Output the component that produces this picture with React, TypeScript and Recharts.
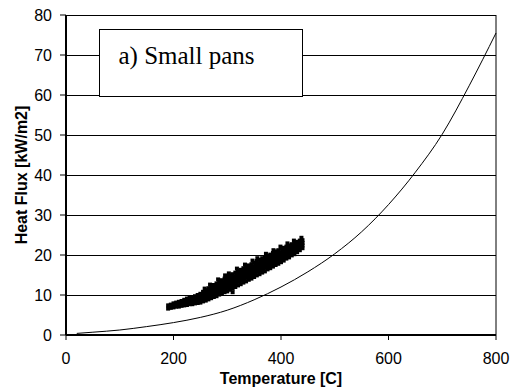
import { ComposedChart, Line, Scatter, XAxis, YAxis, CartesianGrid, ReferenceLine } from 'recharts';

// model curve
const CURVE_T = [20, 50, 100, 150, 200, 250, 300, 350, 400, 450, 500, 550, 600, 650, 700, 750, 800];
const CURVE_Q = [0.4, 0.7, 1.25, 2.1, 3.1, 4.4, 6.2, 8.8, 12, 15.8, 20.3, 25.8, 32.6, 40.7, 50.2, 62.3, 75.5];

// measured points, grouped by temperature
const MEAS_T = [
  190, 195, 200, 205, 210, 215, 220, 225, 230, 235, 240, 245, 250, 255, 260, 265, 270, 275, 280, 285,
  290, 295, 300, 305, 310, 315, 320, 325, 330, 335, 340, 345, 350, 355, 360, 365, 370, 375, 380, 385,
  390, 395, 400, 405, 410, 415, 420, 425, 430, 435, 440,
];
const MEAS_Q = [
  [6.6, 7.4], [6.8, 7.6], [6.9, 7.9], [7.1, 7.6, 8.1], [7.1, 7.7, 8.3], [7.3, 7.9, 8.5], [7.4, 8.1, 8.8],
  [7.5, 8.0, 8.6, 9.1], [7.7, 8.2, 8.8, 9.3], [7.7, 8.3, 8.9, 9.5], [7.9, 8.5, 9.1, 9.7], [8.0, 8.7, 9.3, 10.0],
  [8.1, 8.8, 9.6, 10.3], [8.4, 9.2, 10.0, 10.8], [8.6, 9.5, 10.3, 11.2], [8.9, 9.8, 10.8, 11.7],
  [9.2, 10.1, 11.1, 12.0], [9.5, 10.5, 11.5, 12.5], [9.7, 10.8, 11.8, 12.9], [10.1, 11.1, 12.3, 13.3],
  [10.3, 11.4, 12.6, 13.7], [10.7, 11.8, 13.0, 14.1], [10.9, 12.1, 13.3, 14.5], [11.3, 12.5, 13.7, 14.9],
  [10.7, 11.6, 12.8, 14.0, 15.2], [12.0, 13.2, 14.4, 15.6], [12.4, 13.6, 14.8, 16.0], [12.7, 13.9, 15.1, 16.3],
  [13.1, 14.3, 15.5, 16.7], [13.4, 14.6, 15.8, 17.0], [13.8, 15.0, 16.2, 17.4], [14.1, 15.3, 16.5, 17.7],
  [14.5, 15.7, 16.9, 18.1], [14.9, 16.1, 17.3, 18.5], [15.2, 16.4, 17.6, 18.8], [15.6, 16.8, 18.0, 19.2],
  [15.9, 17.1, 18.3, 19.5], [16.4, 17.5, 18.7, 19.8], [16.7, 17.8, 19.0, 20.1], [17.1, 18.2, 19.4, 20.5],
  [17.5, 18.6, 19.8, 20.9], [17.8, 18.9, 20.1, 21.2], [18.2, 19.3, 20.5, 21.6], [18.6, 19.7, 20.7, 21.8],
  [19.1, 20.1, 21.1, 22.1], [19.4, 20.4, 21.4, 22.4], [19.9, 20.8, 21.8, 22.7], [20.2, 21.1, 22.1, 23.0],
  [20.7, 21.6, 22.4, 23.3], [21.2, 22.0, 22.8, 23.6], [21.7, 22.4, 23.0, 23.7],
];

// in-between readings
const MID_T = [
  192.5, 197.5, 202.5, 207.5, 212.5, 217.5, 222.5, 227.5, 232.5, 237.5, 242.5, 247.5, 252.5, 257.5,
  262.5, 267.5, 272.5, 277.5, 282.5, 287.5, 292.5, 297.5, 302.5, 307.5, 312.5, 317.5, 322.5, 327.5,
  332.5, 337.5, 342.5, 347.5, 352.5, 357.5, 362.5, 367.5, 372.5, 377.5, 382.5, 387.5, 392.5, 397.5,
  402.5, 407.5, 412.5, 417.5, 422.5, 427.5, 432.5, 437.5,
];
const MID_Q = [
  [6.9, 7.3], [7.0, 7.5], [7.2, 7.8], [7.3, 7.7, 8.0], [7.4, 7.8, 8.2], [7.6, 8.0, 8.4], [7.7, 8.2, 8.7],
  [7.9, 8.4, 8.9], [8.0, 8.6, 9.1], [8.2, 8.7, 9.3], [8.3, 8.9, 9.5], [8.5, 9.1, 9.7], [8.7, 9.4, 10.1],
  [9.0, 9.7, 10.4], [9.3, 10.1, 10.9], [9.6, 10.5, 11.3], [9.9, 10.8, 11.7], [10.2, 11.2, 12.1],
  [10.5, 11.5, 12.5], [10.8, 11.9, 12.9], [11.2, 12.2, 13.2], [11.5, 12.6, 13.6], [11.8, 12.9, 14.0],
  [12.2, 13.3, 14.3], [12.5, 13.6, 14.7], [12.9, 14.0, 15.1], [13.3, 14.4, 15.4], [13.6, 14.7, 15.8],
  [14.0, 15.1, 16.1], [14.3, 15.4, 16.5], [14.7, 15.8, 16.8], [15.0, 16.1, 17.2], [15.4, 16.5, 17.6],
  [15.8, 16.9, 17.9], [16.1, 17.2, 18.3], [16.5, 17.6, 18.6], [16.8, 17.9, 19.0], [17.2, 18.3, 19.3],
  [17.6, 18.6, 19.6], [18.0, 19.0, 20.0], [18.3, 19.4, 20.4], [18.7, 19.7, 20.7], [19.0, 20.1, 21.1],
  [19.5, 20.4, 21.3], [19.8, 20.8, 21.7], [20.2, 21.1, 22.0], [20.6, 21.5, 22.3], [21.0, 21.8, 22.6],
  [21.4, 22.2, 23.0], [21.9, 22.6, 23.2],
];

// isolated high readings on the upper edge
const SPIKE_T = [258, 268, 283, 296, 303, 318, 333, 347, 356, 372, 386, 399, 412, 424, 438];
const SPIKE_Q = [11.6, 12.6, 13.9, 14.9, 15.4, 16.6, 17.6, 18.6, 19.2, 20.3, 21.2, 22.1, 22.9, 23.6, 24.3];

const X_TICKS = [0, 200, 400, 600, 800];
const Y_TICKS = [0, 10, 20, 30, 40, 50, 60, 70, 80];

const SANS = '"Liberation Sans", Arial, sans-serif';

const curveData = CURVE_T.map((t, i) => ({ t, q: CURVE_Q[i] }));
const measData = [
  ...MEAS_T.flatMap((t, i) => MEAS_Q[i].map(q => ({ t, q }))),
  ...MID_T.flatMap((t, i) => MID_Q[i].map(q => ({ t, q }))),
  ...SPIKE_T.map((t, i) => ({ t, q: SPIKE_Q[i] })),
];

const SquareDot = (props: any) => {
  const { cx, cy } = props;
  if (cx == null || cy == null) return null;
  return <rect x={cx - 2} y={cy - 2} width={4} height={4} fill="#000" />;
};

// grid line drawn crisp so it reads as a thin dark rule
const GridLine = (props: any) => (
  <line
    key={props.key}
    x1={props.x1}
    y1={props.y1}
    x2={props.x2}
    y2={props.y2}
    stroke="#000"
    strokeWidth={1}
    shapeRendering="crispEdges"
  />
);

const YTitle = (props: any) => {
  const vb = props.viewBox || {};
  const cy = vb.y + vb.height / 2;
  return (
    <text
      x={27}
      y={cy}
      transform={`rotate(-90, 27, ${cy})`}
      textAnchor="middle"
      fontFamily={SANS}
      fontSize={16}
      fontWeight="bold"
      fill="#000"
    >
      Heat Flux [kW/m2]
    </text>
  );
};

export default function App() {
  return (
    <div style={{ position: 'absolute', left: 0, top: 0, width: 513, height: 390, background: '#fff' }}>
      <ComposedChart width={513} height={390} margin={{ top: 15, right: 17, left: 0, bottom: 0 }}>
        <CartesianGrid vertical={false} horizontal={GridLine} />
        <XAxis
          type="number"
          dataKey="t"
          domain={[0, 800]}
          ticks={X_TICKS}
          height={55}
          tickSize={5}
          tickMargin={13}
          tick={{ fill: '#000', fontSize: 16, fontFamily: SANS }}
          tickLine={{ stroke: '#000' }}
          axisLine={{ stroke: '#000', strokeWidth: 2 }}
          label={{
            value: 'Temperature [C]',
            position: 'insideBottom',
            offset: 6,
            fill: '#000',
            fontSize: 16,
            fontWeight: 'bold',
            fontFamily: SANS,
          }}
        />
        <YAxis
          type="number"
          dataKey="q"
          domain={[0, 80]}
          ticks={Y_TICKS}
          width={66}
          tickSize={6}
          tickMargin={8}
          tick={{ fill: '#000', fontSize: 16, fontFamily: SANS }}
          tickLine={{ stroke: '#000' }}
          axisLine={{ stroke: '#000', strokeWidth: 2 }}
          label={{ content: YTitle }}
        />
        <ReferenceLine x={800} stroke="#000" strokeWidth={1} />
        <Scatter data={measData} dataKey="q" shape={SquareDot} isAnimationActive={false} />
        <Line
          data={curveData}
          dataKey="q"
          type="monotone"
          stroke="#000"
          strokeWidth={1}
          dot={false}
          activeDot={false}
          isAnimationActive={false}
        />
      </ComposedChart>
      <div
        style={{
          position: 'absolute',
          left: 99,
          top: 29,
          width: 204,
          height: 68,
          boxSizing: 'border-box',
          border: '1.5px solid #000',
          background: '#fff',
          fontFamily: '"Liberation Serif", "Times New Roman", serif',
          fontSize: 25,
          lineHeight: '25px',
          paddingTop: 12.5,
          paddingLeft: 18.5,
          whiteSpace: 'nowrap',
        }}
      >
        a) Small pans
      </div>
    </div>
  );
}
